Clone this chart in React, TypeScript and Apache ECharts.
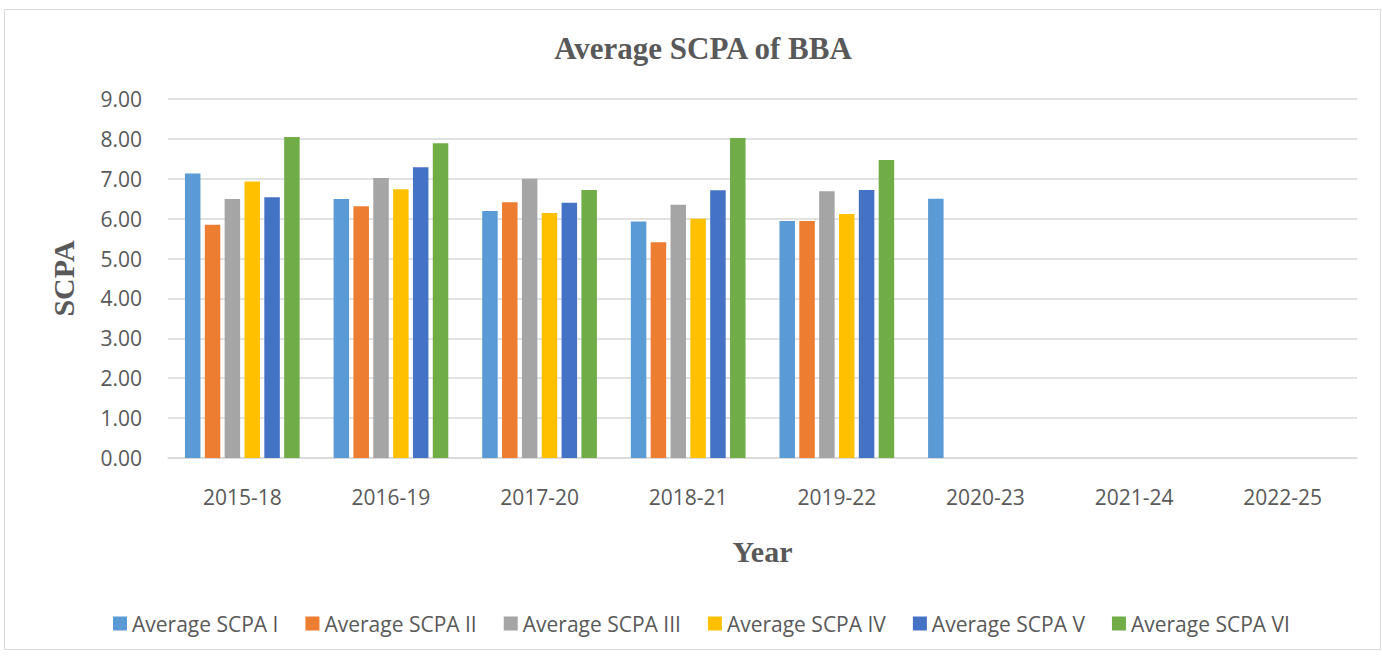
import React, { useEffect, useRef } from "react";
import * as echarts from "echarts";

const categories = ["2015-18", "2016-19", "2017-20", "2018-21", "2019-22", "2020-23", "2021-24", "2022-25"];
const seriesNames = ["Average SCPA I", "Average SCPA II", "Average SCPA III", "Average SCPA IV", "Average SCPA V", "Average SCPA VI"];
const scpa1 = [7.13, 6.49, 6.19, 5.93, 5.94, 6.5, null, null];
const scpa2 = [5.85, 6.31, 6.41, 5.41, 5.94, null, null, null];
const scpa3 = [6.49, 7.02, 7.0, 6.35, 6.69, null, null, null];
const scpa4 = [6.93, 6.74, 6.14, 6.0, 6.12, null, null, null];
const scpa5 = [6.54, 7.29, 6.4, 6.71, 6.72, null, null, null];
const scpa6 = [8.05, 7.89, 6.72, 8.02, 7.47, null, null, null];
const colors = ["#5B9BD5", "#ED7D31", "#A5A5A5", "#FFC000", "#4472C4", "#70AD47"];

const sansFont = "'Open Sans', 'Noto Sans', sans-serif";
const serifFont = "'Liberation Serif', 'DejaVu Serif', serif";

export default function App() {
  const ref = useRef<HTMLDivElement>(null);
  useEffect(() => {
    document.body.style.margin = "0";
    if (!ref.current) return;
    const chart = echarts.init(ref.current, null, { renderer: "svg" });
    const values = [scpa1, scpa2, scpa3, scpa4, scpa5, scpa6];
    chart.setOption({
      animation: false,
      backgroundColor: "#ffffff",
      color: colors,
      title: {
        text: "Average SCPA of BBA",
        left: 698,
        textAlign: "center",
        top: 28,
        textStyle: { fontFamily: serifFont, fontWeight: "bold", fontSize: 31, color: "#595959" },
      },
      graphic: [
        {
          type: "rect",
          shape: { x: 4.5, y: 9.5, width: 1376, height: 640 },
          style: { fill: "none", stroke: "#d9d9d9", lineWidth: 1 },
          silent: true,
        },
      ],
      legend: {
        top: 608,
        left: 108,
        itemWidth: 14,
        itemHeight: 14,
        itemGap: 27,
        icon: "rect",
        textStyle: { fontFamily: sansFont, fontSize: 21, color: "#595959" },
        data: seriesNames,
      },
      grid: { left: 168, right: 25, top: 99, bottom: 200 },
      xAxis: {
        type: "category",
        data: categories,
        name: "Year",
        nameLocation: "middle",
        nameGap: 78,
        nameTextStyle: { fontFamily: serifFont, fontWeight: "bold", fontSize: 30, color: "#595959" },
        axisLine: { lineStyle: { color: "#d9d9d9", width: 1.5 } },
        axisTick: { show: false },
        axisLabel: { fontFamily: sansFont, fontSize: 21, color: "#595959", margin: 28 },
      },
      yAxis: {
        type: "value",
        min: 0,
        max: 9,
        interval: 1,
        name: "SCPA",
        nameLocation: "middle",
        nameGap: 90,
        nameRotate: 90,
        nameTextStyle: { fontFamily: serifFont, fontWeight: "bold", fontSize: 30, color: "#595959" },
        axisLine: { show: false },
        axisTick: { show: false },
        axisLabel: { fontFamily: sansFont, fontSize: 21, color: "#595959", margin: 26, formatter: (v: number) => v.toFixed(2) },
        splitLine: { lineStyle: { color: "#d9d9d9", width: 1.5 } },
      },
      series: seriesNames.map((name, i) => ({
        name,
        type: "bar",
        data: values[i],
        barWidth: 15.5,
        barGap: "28%",
      })),
    });
    return () => chart.dispose();
  }, []);
  return <div ref={ref} style={{ width: 1382, height: 658 }} />;
}
